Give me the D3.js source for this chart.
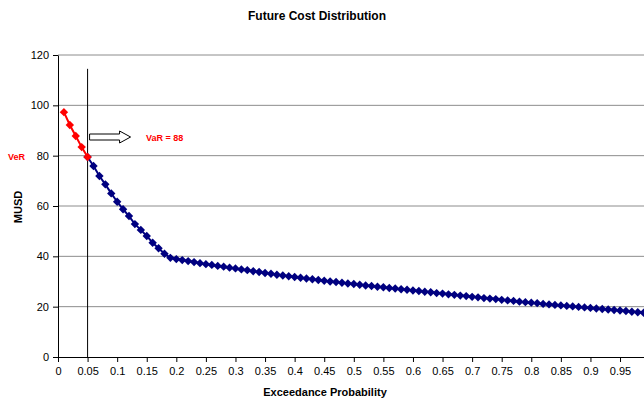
<!DOCTYPE html>
<html>
<head>
<meta charset="utf-8">
<script src="https://cdn.jsdelivr.net/npm/d3@7"></script>
<style>
  body { margin: 0; background: #fff; }
  svg { display: block; overflow: hidden; }
  text { font-family: "Liberation Sans", Arial, sans-serif; }
</style>
</head>
<body>
<svg id="drawing_region"></svg>
<script>
// tail points (red) : exceedance probability / MUSD
const redProb = [0.01, 0.02, 0.03, 0.04, 0.05];
const redCost = [97.3, 92.2, 87.8, 83.4, 79.5];

// main curve (blue)
const blueProb = [
    0.05, 0.06, 0.07, 0.08, 0.09, 0.10, 0.11, 0.12, 0.13, 0.14,
    0.15, 0.16, 0.17, 0.18, 0.19, 0.20, 0.21, 0.22, 0.23, 0.24,
    0.25, 0.26, 0.27, 0.28, 0.29, 0.30, 0.31, 0.32, 0.33, 0.34,
    0.35, 0.36, 0.37, 0.38, 0.39, 0.40, 0.41, 0.42, 0.43, 0.44,
    0.45, 0.46, 0.47, 0.48, 0.49, 0.50, 0.51, 0.52, 0.53, 0.54,
    0.55, 0.56, 0.57, 0.58, 0.59, 0.60, 0.61, 0.62, 0.63, 0.64,
    0.65, 0.66, 0.67, 0.68, 0.69, 0.70, 0.71, 0.72, 0.73, 0.74,
    0.75, 0.76, 0.77, 0.78, 0.79, 0.80, 0.81, 0.82, 0.83, 0.84,
    0.85, 0.86, 0.87, 0.88, 0.89, 0.90, 0.91, 0.92, 0.93, 0.94,
    0.95, 0.96, 0.97, 0.98, 0.99, 1.00
];
const blueCost = [
    79.5, 75.9, 71.9, 68.6, 65.0, 61.7, 58.7, 56.0, 52.8, 50.5,
    48.1, 45.4, 43.2, 41.0, 39.4, 38.9, 38.5, 38.1, 37.7, 37.3,
    36.9, 36.6, 36.2, 35.9, 35.5, 35.2, 34.8, 34.5, 34.1, 33.8,
    33.4, 33.1, 32.7, 32.4, 32.1, 31.8, 31.5, 31.2, 30.9, 30.6,
    30.3, 30.0, 29.8, 29.5, 29.2, 29.0, 28.7, 28.4, 28.2, 27.9,
    27.7, 27.4, 27.2, 26.9, 26.7, 26.4, 26.2, 25.9, 25.7, 25.4,
    25.2, 24.9, 24.7, 24.4, 24.2, 23.9, 23.7, 23.4, 23.2, 23.0,
    22.7, 22.5, 22.3, 22.0, 21.8, 21.6, 21.4, 21.1, 20.9, 20.7,
    20.5, 20.3, 20.1, 19.9, 19.7, 19.5, 19.3, 19.1, 18.9, 18.7,
    18.5, 18.3, 18.0, 17.8, 17.6, 17.4
];

const xTicks = [0, 0.05, 0.1, 0.15, 0.2, 0.25, 0.3, 0.35, 0.4, 0.45, 0.5,
                0.55, 0.6, 0.65, 0.7, 0.75, 0.8, 0.85, 0.9, 0.95, 1];
const yTicks = [0, 20, 40, 60, 80, 100, 120];

const varLevel = 0.05;   // vertical marker line
const varTop = 114.5;
const varValue = 88;

const config = {
    width: 644,
    height: 401,
    left: 58,
    right: 649.6,
    top: 55,
    bottom: 357
};

const svg = d3.select('#drawing_region')
    .attr('width', config.width)
    .attr('height', config.height);

const x = d3.scaleLinear().domain([0, 1]).range([config.left, config.right]);
const y = d3.scaleLinear().domain([0, 120]).range([config.bottom, config.top]);

// gridlines
svg.append('g')
    .selectAll('line')
    .data(yTicks.filter(d => d > 0))
    .enter()
    .append('line')
    .attr('x1', config.left)
    .attr('x2', config.width)
    .attr('y1', d => y(d))
    .attr('y2', d => y(d))
    .attr('stroke', '#8c8c8c')
    .attr('stroke-width', 1);

// axes
const xAxis = svg.append('g')
    .attr('transform', `translate(0, ${config.bottom})`)
    .call(d3.axisBottom(x).tickValues(xTicks).tickSize(5).tickSizeOuter(0).tickFormat(d => String(d)));
const yAxis = svg.append('g')
    .attr('transform', `translate(${config.left}, 0)`)
    .call(d3.axisLeft(y).tickValues(yTicks).tickSize(5).tickSizeOuter(0));

[xAxis, yAxis].forEach(a => {
    a.select('.domain').attr('stroke', '#000');
    a.selectAll('.tick line').attr('stroke', '#000');
    a.selectAll('.tick text')
        .attr('fill', '#000')
        .style('font-size', '11px')
        .style('font-family', '"Liberation Sans", Arial, sans-serif');
});
xAxis.selectAll('.tick text').attr('dy', '0.9em');
yAxis.selectAll('.tick text').attr('x', -9);

// vertical VaR line
svg.append('line')
    .attr('x1', x(varLevel)).attr('x2', x(varLevel))
    .attr('y1', y(varTop)).attr('y2', y(0))
    .attr('stroke', '#000')
    .attr('stroke-width', 1);

// series
const diamond = 'M0,-4.2L4.2,0L0,4.2L-4.2,0Z';
function drawSeries(probs, costs, color) {
    const pts = probs.map((p, i) => [p, costs[i]]);
    const line = d3.line().x(d => x(d[0])).y(d => y(d[1]));
    svg.append('path')
        .attr('d', line(pts))
        .attr('fill', 'none')
        .attr('stroke', color)
        .attr('stroke-width', 2);
    svg.append('g')
        .selectAll('path')
        .data(pts)
        .enter()
        .append('path')
        .attr('d', diamond)
        .attr('transform', d => `translate(${x(d[0])}, ${y(d[1])})`)
        .attr('fill', color);
}
drawSeries(blueProb, blueCost, '#000080');
drawSeries(redProb, redCost, '#ff0000');

// block arrow
const ax = x(varLevel) + 2, ay = 137;
svg.append('path')
    .attr('d', `M${ax},${ay - 3}L${ax + 30},${ay - 3}L${ax + 30},${ay - 6}L${ax + 41},${ay}L${ax + 30},${ay + 6}L${ax + 30},${ay + 3}L${ax},${ay + 3}Z`)
    .attr('fill', '#fff')
    .attr('stroke', '#000')
    .attr('stroke-width', 1);

svg.append('text')
    .attr('x', 146).attr('y', 141)
    .attr('fill', '#ff0000')
    .style('font-size', '9px')
    .style('font-weight', 'bold')
    .text(`VaR = ${varValue}`);

svg.append('text')
    .attr('x', 8).attr('y', 160)
    .attr('fill', '#ff0000')
    .style('font-size', '9px')
    .style('font-weight', 'bold')
    .text('VeR');

// titles
svg.append('text')
    .attr('x', 317).attr('y', 20)
    .attr('text-anchor', 'middle')
    .style('font-size', '12px')
    .style('font-weight', 'bold')
    .text('Future Cost Distribution');

svg.append('text')
    .attr('x', 325).attr('y', 396)
    .attr('text-anchor', 'middle')
    .style('font-size', '11px')
    .style('font-weight', 'bold')
    .text('Exceedance Probability');

svg.append('text')
    .attr('transform', 'translate(22, 207) rotate(-90)')
    .attr('text-anchor', 'middle')
    .style('font-size', '11px')
    .style('font-weight', 'bold')
    .text('MUSD');
</script>
</body>
</html>
